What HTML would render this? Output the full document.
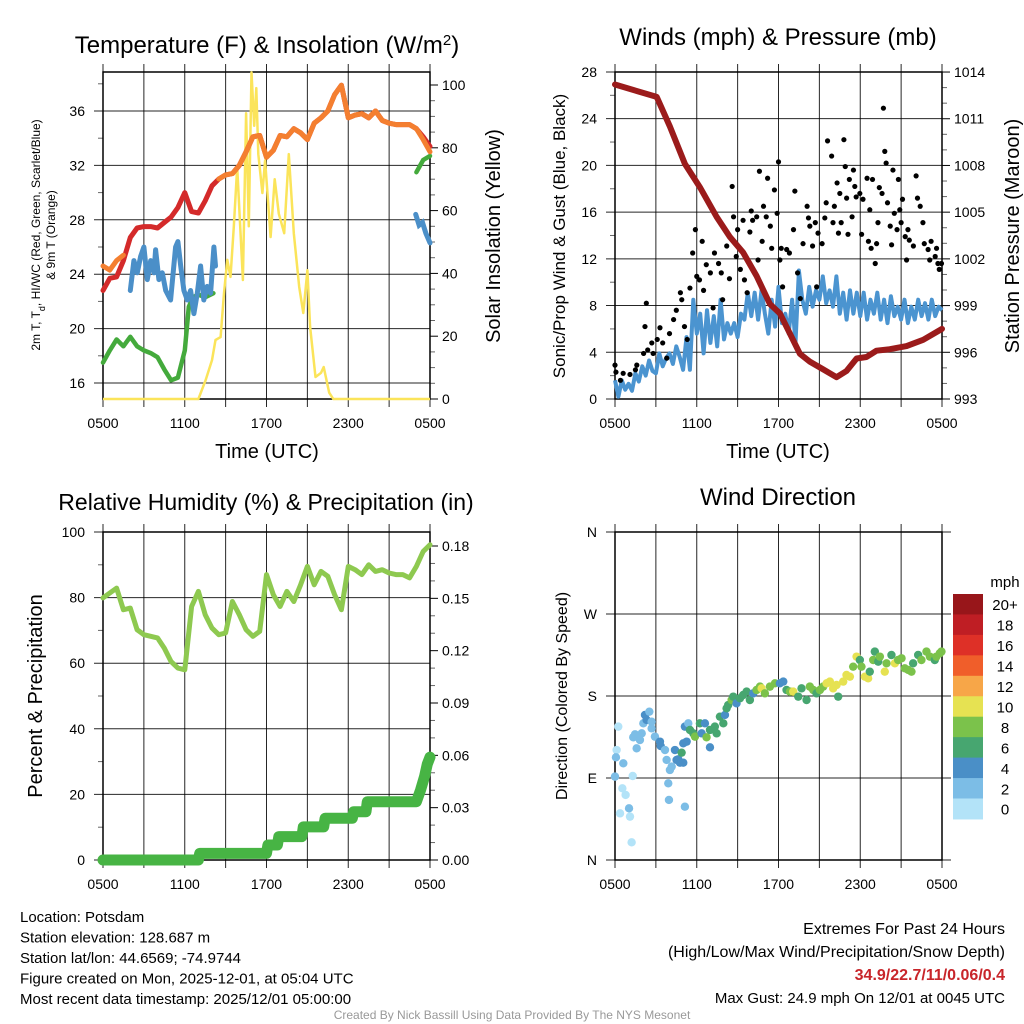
<!DOCTYPE html>
<html><head><meta charset="utf-8">
<style>
html,body{margin:0;padding:0;background:#fff;}
svg{display:block;font-family:"Liberation Sans",Arial,sans-serif;}
</style></head>
<body>
<svg id="root" width="1024" height="1024" viewBox="0 0 1024 1024" xmlns="http://www.w3.org/2000/svg"></svg>
<script>
// ---------- Panel 1 data ----------
const tempHours = [0,0.5,1,1.5,2,2.5,3,3.5,4,4.5,5,5.5,6,6.5,7,7.5,8,8.5,9,9.5,10,10.5,11,11.5,12,12.5,13,13.5,14,14.5,15,15.5,16,16.5,17,17.5,18,18.5,19,19.5,20,20.5,21,21.5,22,22.5,23,23.5,24];
const tempRed = [22.8,23.7,23.8,25.0,26.7,27.4,27.5,27.5,27.4,27.8,28.2,28.9,30.0,28.6,28.5,29.4,30.5,31.0,31.3,31.4,32.0,33.0,34.1,34.2,32.6,33.1,34.2,34.1,34.7,34.4,33.9,35.1,35.5,36.0,37.2,37.9,35.5,35.7,35.8,35.5,36.0,35.3,35.1,35.0,35.0,35.0,34.7,34.1,33.4];
const temp9m = [24.6,24.3,25.0,25.4,null,null,null,null,null,null,null,null,null,null,null,null,null,31.0,31.3,31.4,32.0,33.0,34.1,34.2,32.6,33.1,34.2,34.1,34.7,34.4,33.9,35.1,35.5,36.0,37.2,37.9,35.5,35.7,35.8,35.5,36.0,35.3,35.1,35.0,35.0,35.0,34.7,33.9,33.0];
const dewHours = [2.0,2.27,2.52,2.76,3.0,3.25,3.5,3.74,3.86,4.1,4.35,4.6,4.96,5.33,5.5,5.7,5.94,6.19,6.43,6.67,6.92,7.16,7.4,7.65,7.9,8.14,8.26];
const dewVals = [22.8,25.0,24.1,25.3,26.0,23.6,25.0,24.1,25.8,23.6,24.1,22.8,22.1,26.0,26.4,24.6,22.8,22.1,22.8,21.1,22.6,24.6,22.1,23.1,22.6,26.0,24.6];
const dewHours2 = [22.95,23.2,23.45,23.7,24];
const dewVals2 = [28.4,27.6,27.8,27.0,26.3];
const hiHours = [0,0.5,1,1.5,2,2.5,3,3.5,4,4.5,5,5.5,6,6.3,6.6,7,7.5,8.1];
const hiVals = [17.5,18.4,19.2,18.7,19.4,18.7,18.4,18.2,17.9,17.0,16.2,16.4,18.4,21.6,22.3,22.5,22.3,22.6];
const hiHours2 = [23.0,23.5,24];
const hiVals2 = [31.5,32.4,32.7];
const solarHours = [0,7.0,7.53,8.0,8.26,8.63,8.88,9.12,9.36,9.6,9.85,10.27,10.5,10.7,10.9,11.1,11.25,11.4,11.7,11.9,12.3,12.6,12.9,13.3,13.64,14.0,14.4,14.7,15.0,15.2,15.6,16.0,16.2,16.6,16.9,24];
const solarVals = [0,0,6,12.4,18.8,19.7,33.7,44.3,38.9,54.8,73.9,37.9,91,55,104,87,99,78,65.6,76,51.6,70,59,52.8,78,52.8,35.7,27.4,41,23,7,8.3,10.2,2,0,0];
// ---------- Panel 2 data ----------
const presHours = [0,3.06,4.03,5.13,6.23,7.46,8.44,9.41,10.39,11.37,12.1,12.84,13.57,14.3,15.28,16.26,16.99,17.73,18.46,19.19,20.17,21.4,22.62,24];
const presVals = [1013.2,1012.4,1010.5,1008.1,1006.6,1004.7,1003.4,1002.4,1000.9,999.1,998.5,997.2,995.9,995.4,994.9,994.4,994.8,995.6,995.7,996.1,996.2,996.4,996.8,997.5];
const windStep = 0.25;
const windVals = [1.6,0.2,1.6,0.8,1.3,0.7,2.2,1.5,2.8,2.0,3.3,2.4,2.2,3.9,2.8,3.5,3.9,3.0,4.5,3.6,2.5,5.3,2.5,8.5,5.6,7.3,3.9,7.6,4.8,7.1,4.5,8.5,5.1,6.5,5.6,6.5,5.3,7.3,6.8,9.1,7.1,9.1,6.8,9.3,7.3,5.6,8.5,6.2,9.6,6.5,7.3,5.6,8.5,4.8,11.0,8.5,7.3,9.6,7.9,9.3,8.5,10.5,8.2,9.3,7.9,10.5,7.3,9.1,6.8,9.3,7.3,9.1,7.1,9.1,6.8,8.5,7.3,9.1,6.8,8.5,6.5,8.8,7.1,7.9,6.8,8.5,6.5,7.9,6.8,8.5,7.1,8.2,6.8,8.5,7.1,7.9,7.6];
const gustHours = [0,0.07,0.4,0.6,1.1,1.5,1.6,2.1,2.2,2.3,2.4,2.7,2.8,3.1,3.3,3.5,3.8,4.0,4.3,4.5,4.8,4.9,5.1,5.3,5.5,5.7,5.9,6.0,6.2,6.4,6.5,6.7,7.0,7.2,7.3,7.6,7.8,7.9,8.2,8.4,8.6,8.7,8.9,9.0,9.2,9.4,9.5,9.7,9.9,10.0,10.1,10.4,10.5,10.6,10.8,10.9,11.1,11.2,11.4,11.5,11.7,11.9,12.0,12.1,12.2,12.3,12.6,12.8,13.1,13.2,13.4,13.6,13.8,14.1,14.2,14.3,14.5,14.7,14.8,14.9,15.2,15.4,15.5,15.6,15.9,16.0,16.1,16.3,16.4,16.5,16.6,16.8,16.9,17.0,17.1,17.2,17.4,17.5,17.6,17.7,17.97,18.1,18.2,18.5,18.6,18.7,18.8,18.9,19.1,19.2,19.3,19.4,19.6,19.7,19.8,19.9,20.0,20.2,20.3,20.4,20.5,20.7,20.8,20.9,21.0,21.1,21.3,21.4,21.5,21.6,21.9,22.1,22.2,22.4,22.6,22.7,22.98,23.1,23.2,23.5,23.6,23.7,23.8,23.96];
const gustVals = [2.9,2.3,1.6,2.2,2.1,2.5,2.9,3.9,6.2,8.2,4.2,4.8,3.9,5.1,6.1,4.8,3.5,5.6,6.8,7.6,9.1,8.5,6.2,5.1,9.5,12.5,14.5,10.5,10.2,13.5,9.3,11.5,10.8,7.8,12.5,11.6,10.8,8.5,13.1,10.3,18.2,15.6,12.2,14.5,11.1,15.3,10.2,9.1,14.3,16.1,15.3,15.6,11.9,19.5,13.5,16.5,15.6,18.9,14.8,12.9,17.9,15.9,20.3,11.9,12.9,9.6,12.8,12.5,14.5,17.8,10.8,8.6,13.3,16.5,15.5,14.8,13.1,15.1,9.6,14.2,13.3,15.5,16.8,22.1,20.8,15.1,16.5,18.5,14.2,17.6,15.1,22.2,19.9,17.2,14.1,18.8,15.6,19.6,18.2,17.3,17.6,14.1,17.1,18.9,13.5,16.2,12.9,18.8,11.6,13.3,15.1,18.1,17.6,24.9,21.2,20.2,16.8,14.8,13.2,19.6,15.9,14.5,18.8,16.2,15.1,17.1,13.9,11.9,14.5,13.6,13.1,19.1,17.2,16.5,15.1,13.3,12.8,11.9,13.5,12.2,12.9,11.6,11.1,11.6];
// ---------- Panel 3 data ----------
const rhStep = 0.5;
const rhVals = [79.9,81.4,82.9,76.3,76.8,70.2,68.7,68.2,67.7,64.6,60.5,58.5,58.0,77.3,81.9,74.8,70.7,68.7,69.2,78.8,74.8,70.2,68.2,69.7,87.0,80.9,77.3,81.9,78.8,83.9,89.5,83.9,88.0,86.5,80.9,76.3,89.5,88.5,87.0,90.0,88.0,88.5,87.5,87.0,87.0,86.0,89.5,94.1,96.1];
const precipHours = [0,7.0,7.1,12.0,12.1,12.8,12.9,14.6,14.7,16.2,16.3,18.3,18.4,19.3,19.4,23.0,23.3,23.6,23.8,24];
const precipVals = [0,0,0.0038,0.0038,0.0086,0.0086,0.0134,0.0134,0.019,0.019,0.0239,0.0239,0.0277,0.0277,0.0334,0.0334,0.040,0.048,0.055,0.059];
// ---------- Panel 4 data ----------
const dirHours = [0,0.12,0.07,0.24,0.61,0.54,0.78,0.37,1.03,1.1,1.22,1.3,1.34,1.47,1.59,1.83,1.96,2.08,2.2,2.32,2.52,2.69,2.69,2.93,3.3,3.35,3.67,3.79,4.03,4.16,3.91,3.96,4.4,4.52,4.65,4.77,5.01,4.89,5.13,5.01,5.26,5.13,5.38,5.5,5.75,5.87,6.23,6.36,6.6,6.72,6.97,6.97,7.33,7.46,7.7,7.95,8.07,8.19,8.31,8.56,8.68,8.92,9.17,9.41,9.66,9.9,10.15,10.39,10.64,10.76,11.0,11.37,11.74,12.1,12.35,12.59,12.84,13.08,13.45,13.69,14.06,14.3,14.55,14.79,15.04,15.28,15.53,15.77,16.01,16.26,16.38,16.75,16.99,17.24,17.48,17.73,17.97,18.09,18.34,18.58,18.7,18.95,19.07,19.32,19.44,19.8,19.93,20.29,20.54,20.78,21.03,21.27,21.52,21.76,21.88,22.25,22.49,22.86,23.11,23.47,23.59,23.84,23.96];
const dirDeg = [91.5,120.7,112.7,146.4,106.1,78.7,71.4,51.2,56.7,47.6,19.4,92.2,134.7,137.9,122.6,131.7,139.0,150.0,159.2,153.7,162.8,151.8,144.5,135.4,129.9,125.1,120.7,109.8,98.8,102.5,84.2,65.9,120.7,109.8,110.5,106.8,106.8,117.8,58.5,128.1,129.9,146.4,150.0,142.7,139.0,135.4,150.0,139.0,150.0,134.7,123.7,142.7,146.4,139.0,157.3,150.0,159.2,166.5,170.1,175.6,179.3,172.0,177.5,181.1,184.8,175.6,182.9,186.6,190.3,188.4,182.9,190.3,193.9,193.9,195.8,186.6,184.8,184.8,179.3,188.4,175.6,190.3,186.6,182.9,186.6,190.3,193.9,195.8,188.4,192.1,179.3,195.8,203.1,201.2,212.2,223.2,219.5,212.2,201.2,199.4,206.7,219.5,228.7,217.7,223.2,206.7,215.9,225.0,215.9,219.5,221.4,210.4,208.6,206.7,215.9,225.0,219.5,228.7,223.2,219.5,223.2,226.9,228.7];
const dirSpeed = [3,1,3,1,3,1,1,1,3,1,1,1,3,3,3,3,3,3,5,5,3,3,3,3,5,5,3,3,3,3,3,3,5,5,5,5,5,7,3,5,5,5,3,7,7,9,7,5,5,9,5,7,7,7,7,7,5,7,7,9,7,5,7,7,7,7,5,9,9,11,9,9,9,5,5,7,9,11,7,7,7,9,9,7,9,9,11,11,11,11,7,11,11,11,9,11,7,9,11,11,7,9,7,7,9,11,9,7,11,9,9,9,9,9,7,7,9,9,9,7,9,9,9];
const cbLabels = ["20+","18","16","14","12","10","8","6","4","2","0"];
const cbColors = ["#98161a","#bf1e24","#de3027","#f05e2a","#f7a648","#e6e252","#7bc24b","#47a670","#4a8fc7","#7cbde6","#b3e3f8"];
const xTickLabels = ["0500","1100","1700","2300","0500"];

const NS = "http://www.w3.org/2000/svg";
const root = document.getElementById('root');
function mk(tag, attrs, parent){
  const e = document.createElementNS(NS, tag);
  for (const k in attrs) e.setAttribute(k, attrs[k]);
  (parent||root).appendChild(e);
  return e;
}
function txt(x,y,s,size,anchor,name,extra){
  const a = Object.assign({x:x,y:y,'font-size':size,'text-anchor':anchor||'middle',fill:'#000'}, extra||{});
  const t = mk('text', a);
  t.textContent = s;
  
  
  return t;
}
function linePath(xs, ys, sx, sy){
  let d = '', pen = false;
  for (let i=0;i<xs.length;i++){
    if (ys[i]===null){ pen=false; continue; }
    d += (pen?'L':'M') + sx(xs[i]).toFixed(1) + ',' + sy(ys[i]).toFixed(1);
    pen = true;
  }
  return d;
}
function panel(p, name){
  const g = mk('g', {});
  
  
  const sx = h => p.x0 + (p.x1-p.x0)*h/24;
  for (let h=0; h<=24; h+=3){
    const l = mk('line',{x1:sx(h),x2:sx(h),y1:p.y0-8,y2:p.y1+8,stroke:'#000','stroke-width':1,'stroke-opacity':0.85}, g);
    
    
  }
  p.lMajor.forEach(v=>{
    const l = mk('line',{x1:p.x0-(p.gridExt||9),x2:p.x1+(p.gridExt||0),y1:p.syL(v),y2:p.syL(v),stroke:'#000','stroke-width':1,'stroke-opacity':0.85}, g);
    
    
  });
  (p.lMinor||[]).forEach(v=>{
    const l = mk('line',{x1:p.x0-5,x2:p.x0,y1:p.syL(v),y2:p.syL(v),stroke:'#000','stroke-width':1,'stroke-opacity':0.6}, g);
    
    
  });
  if (p.rMajor){
    p.rMajor.forEach(v=>{
      const l = mk('line',{x1:p.x1,x2:p.x1+8,y1:p.syR(v),y2:p.syR(v),stroke:'#000','stroke-width':1}, g);
      
      
    });
    p.rMinor.forEach(v=>{
      const l = mk('line',{x1:p.x1,x2:p.x1+5,y1:p.syR(v),y2:p.syR(v),stroke:'#000','stroke-width':1,'stroke-opacity':0.6}, g);
      
      
    });
  }
  const fr = mk('rect',{x:p.x0,y:p.y0,width:p.x1-p.x0,height:p.y1-p.y0,fill:'none',stroke:'#000','stroke-width':1.5}, g);
  
  
  xTickLabels.forEach((s,i)=>{ txt(sx(i*6), p.y1+29, s, 14, 'middle', 'x-tick-label'); });
  p.lMajor.forEach((v,i)=>{ txt(p.x0-18, p.syL(v)+5, p.lLabels[i], 14, 'end', 'left-tick-label'); });
  if (p.rMajor) p.rMajor.forEach((v,i)=>{ txt(p.x1+12, p.syR(v)+5, p.rLabels[i], 14, 'start', 'right-tick-label'); });
  return sx;
}

// ===== Panel 1 =====
const p1 = {x0:103,x1:430,y0:72,y1:399,
  syL:t=>383-(t-16)*13.6, syR:s=>399-s*3.14,
  lMajor:[16,20,24,28,32,36], lLabels:["16","20","24","28","32","36"], lMinor:[18,22,26,30,34,38],
  rMajor:[0,20,40,60,80,100], rLabels:["0","20","40","60","80","100"], rMinor:[5,10,15,25,30,35,45,50,55,65,70,75,85,90,95]};
const sx1 = panel(p1,'temperature-panel');
let e;
e = mk('path',{d:linePath(solarHours,solarVals,sx1,p1.syR),fill:'none',stroke:'#fbe45a','stroke-width':2.5,'stroke-linejoin':'round'});
 
e = mk('path',{d:linePath(hiHours,hiVals,sx1,p1.syL),fill:'none',stroke:'#44aa3c','stroke-width':4.5,'stroke-linejoin':'round','stroke-linecap':'round'});
 
e = mk('path',{d:linePath(hiHours2,hiVals2,sx1,p1.syL),fill:'none',stroke:'#44aa3c','stroke-width':4.5,'stroke-linecap':'round'});
 
e = mk('path',{d:linePath(dewHours,dewVals,sx1,p1.syL),fill:'none',stroke:'#4b8fc8','stroke-width':5,'stroke-linejoin':'round','stroke-linecap':'round'});
 
e = mk('path',{d:linePath(dewHours2,dewVals2,sx1,p1.syL),fill:'none',stroke:'#4b8fc8','stroke-width':5,'stroke-linecap':'round'});
 
e = mk('path',{d:linePath(tempHours,tempRed,sx1,p1.syL),fill:'none',stroke:'#d42a2a','stroke-width':5,'stroke-linejoin':'round','stroke-linecap':'round'});
 
e = mk('path',{d:linePath(tempHours,temp9m,sx1,p1.syL),fill:'none',stroke:'#f47f30','stroke-width':5,'stroke-linejoin':'round','stroke-linecap':'round'});
 
e = txt(267,53,'Temperature (F) & Insolation (W/m',24,'middle','temperature-title');
const sup = mk('tspan',{'baseline-shift':'super','font-size':15},e); sup.textContent='2';
const cl = mk('tspan',{},e); cl.textContent=')';
txt(267,458,'Time (UTC)',20,'middle','x-axis-title');
{
  const t = mk('text',{transform:'translate(40,235) rotate(-90)','font-size':12,'text-anchor':'middle'});
  
  
  const a = mk('tspan',{},t); a.textContent='2m T, T';
  const b = mk('tspan',{'baseline-shift':'sub','font-size':9},t); b.textContent='d';
  const c = mk('tspan',{},t); c.textContent=', HI/WC (Red, Green, Scarlet/Blue)';
}
txt(0,0,'& 9m T (Orange)',12,'middle','temperature-y-axis-title-line2',{transform:'translate(55,235) rotate(-90)'});
txt(0,0,'Solar Insolation (Yellow)',20,'middle','solar-y-axis-title',{transform:'translate(500,236) rotate(-90)'});

// ===== Panel 2 =====
const p2 = {x0:615,x1:942,y0:72,y1:399,
  syL:v=>399-v*11.68, syR:p=>399-(p-993)*15.57,
  lMajor:[0,4,8,12,16,20,24,28], lLabels:["0","4","8","12","16","20","24","28"], lMinor:[2,6,10,14,18,22,26],
  rMajor:[993,996,999,1002,1005,1008,1011,1014], rLabels:["993","996","999","1002","1005","1008","1011","1014"],
  rMinor:[994,995,997,998,1000,1001,1003,1004,1006,1007,1009,1010,1012,1013]};
const sx2 = panel(p2,'winds-panel');
const windHours = windVals.map((v,i)=>i*windStep);
e = mk('path',{d:linePath(windHours,windVals,sx2,p2.syL),fill:'none',stroke:'#4b94d0','stroke-width':4,'stroke-linejoin':'round'});
 
gustHours.forEach((h,i)=>{
  const c = mk('circle',{cx:sx2(h),cy:p2.syL(gustVals[i]),r:2.6,fill:'#000'});
  
  
});
e = mk('path',{d:linePath(presHours,presVals,sx2,p2.syR),fill:'none',stroke:'#9b1b1b','stroke-width':6,'stroke-linejoin':'round','stroke-linecap':'round'});
 
txt(778,45,'Winds (mph) & Pressure (mb)',24,'middle','winds-title');
txt(778,458,'Time (UTC)',20,'middle','winds-x-axis-title');
txt(0,0,'Sonic/Prop Wind & Gust (Blue, Black)',17,'middle','wind-y-axis-title',{transform:'translate(565,236) rotate(-90)'});
txt(0,0,'Station Pressure (Maroon)',20,'middle','pressure-y-axis-title',{transform:'translate(1019,236) rotate(-90)'});

// ===== Panel 3 =====
const p3 = {x0:103,x1:430,y0:532,y1:860,
  syL:v=>860-v*3.28, syR:p=>860-p*1744.4,
  lMajor:[0,20,40,60,80,100], lLabels:["0","20","40","60","80","100"], lMinor:[10,30,50,70,90],
  rMajor:[0,0.03,0.06,0.09,0.12,0.15,0.18], rLabels:["0.00","0.03","0.06","0.09","0.12","0.15","0.18"],
  rMinor:[0.01,0.02,0.04,0.05,0.07,0.08,0.10,0.11,0.13,0.14,0.16,0.17]};
const sx3 = panel(p3,'humidity-panel');
const rhHours = rhVals.map((v,i)=>i*rhStep);
e = mk('path',{d:linePath(precipHours,precipVals,sx3,p3.syR),fill:'none',stroke:'#47b444','stroke-width':11,'stroke-linejoin':'round','stroke-linecap':'round'});
 
e = mk('path',{d:linePath(rhHours,rhVals,sx3,p3.syL),fill:'none',stroke:'#8ec950','stroke-width':5,'stroke-linejoin':'round','stroke-linecap':'round'});
 
txt(266,510,'Relative Humidity (%) & Precipitation (in)',23,'middle','humidity-title');
txt(0,0,'Percent & Precipitation',20,'middle','humidity-y-axis-title',{transform:'translate(42,696) rotate(-90)'});

// ===== Panel 4 =====
const p4 = {x0:615,x1:942,y0:532,y1:860, gridExt:9,
  syL:d=>860-d*328/360,
  lMajor:[0,90,180,270,360], lLabels:["N","E","S","W","N"], lMinor:[]};
const sx4 = panel(p4,'wind-direction-panel');
function speedColor(s){ const idx = Math.min(10, Math.floor(s/2)); return cbColors[10-idx]; }
dirHours.forEach((h,i)=>{
  const c = mk('circle',{cx:sx4(h),cy:p4.syL(dirDeg[i]),r:4.2,fill:speedColor(dirSpeed[i])});
  
  
});
txt(778,505,'Wind Direction',24,'middle','wind-direction-title');
txt(0,0,'Direction (Colored By Speed)',16,'middle','direction-y-axis-title',{transform:'translate(567,696) rotate(-90)'});
const cbTop = 594, cbH = 20.45;
cbColors.forEach((c,i)=>{
  const r = mk('rect',{x:953,y:cbTop+i*cbH,width:30,height:cbH+0.5,fill:c});
  
  
  txt(1005,cbTop+i*cbH+cbH/2+6,cbLabels[i],15,'middle','colorbar-label');
});
txt(1005,587,'mph',15,'middle','colorbar-title');

// ===== Footer =====
const info = ["Location: Potsdam","Station elevation: 128.687 m","Station lat/lon: 44.6569; -74.9744","Figure created on Mon, 2025-12-01, at 05:04 UTC","Most recent data timestamp: 2025/12/01 05:00:00"];
info.forEach((s,i)=>{ txt(20,922+i*20.5,s,15,'start','station-info-line'); });
txt(1005,934,'Extremes For Past 24 Hours',16,'end','extremes-title');
txt(1005,957,'(High/Low/Max Wind/Precipitation/Snow Depth)',16,'end','extremes-subtitle');
txt(1005,980,'34.9/22.7/11/0.06/0.4',16,'end','extremes-values',{fill:'#c8252a','font-weight':'bold'});
txt(1005,1003,'Max Gust: 24.9 mph On 12/01 at 0045 UTC',15,'end','max-gust');
txt(512,1019,'Created By Nick Bassill Using Data Provided By The NYS Mesonet',12,'middle','credit',{fill:'#999'});
</script>
</body></html>
